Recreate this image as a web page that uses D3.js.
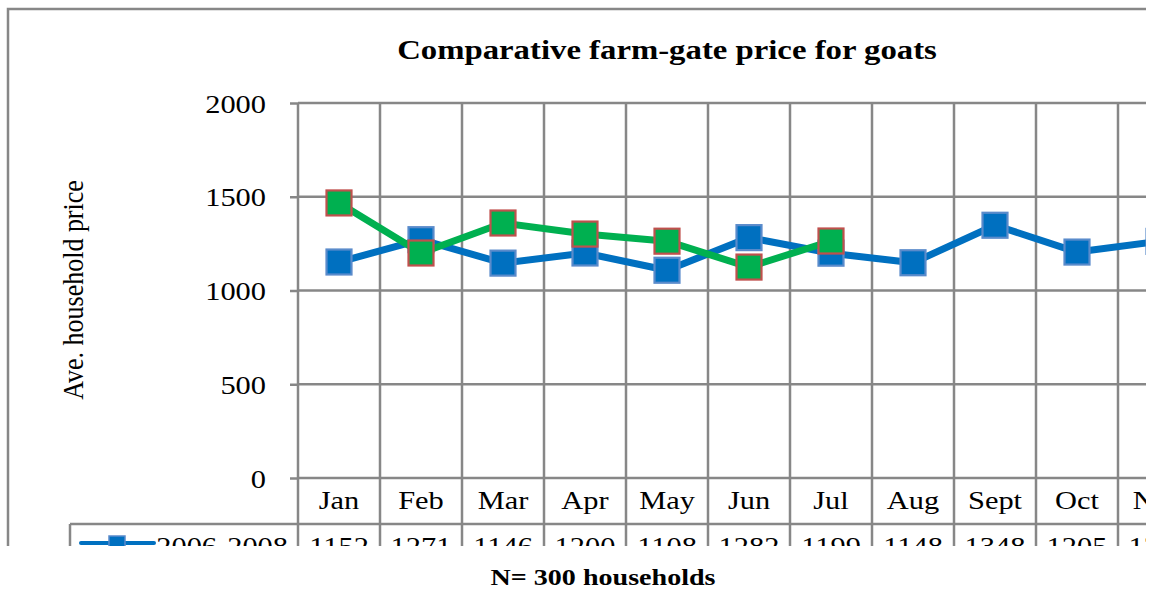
<!DOCTYPE html>
<html>
<head>
<meta charset="utf-8">
<script src="https://cdn.jsdelivr.net/npm/d3@7"></script>
<style>
  body { margin: 0; background: #fff; }
  text { font-family: "Liberation Serif", "Times New Roman", serif; }
</style>
</head>
<body>
<figure id="chart" style="margin:0"></figure>
<script>
const months = ["Jan", "Feb", "Mar", "Apr", "May", "Jun", "Jul", "Aug", "Sept", "Oct", "Nov", "Dec"];
const yTicks = [0, 500, 1000, 1500, 2000];
const series1Name = "2006-2008";
const series1 = [1152, 1271, 1146, 1200, 1108, 1282, 1199, 1148, 1348, 1205, 1262, null];
const series2 = [1467, 1200, 1360, 1301, 1263, 1125, 1264, null, null, null, null, null];

const W = 1157, H = 591;
const plotLeft = 298, plotTop = 103, plotBottom = 478;
const colW = 82;
const gridColor = "#878787";
const sx = 1.17; // the source picture is a little wider than tall

const svg = d3.select("figure#chart").append("svg")
  .attr("width", W).attr("height", H);

svg.append("clipPath").attr("id", "crop")
  .append("rect").attr("x", 0).attr("y", 0).attr("width", 1146).attr("height", 546);

const g = svg.append("g").attr("clip-path", "url(#crop)");

// horizontally stretched text at (x, y)
function label(parent, x, y, txt, size, anchor, bold) {
  return parent.append("text")
    .attr("transform", "translate(" + x + "," + y + ") scale(" + sx + ",1)")
    .attr("text-anchor", anchor || "middle")
    .attr("font-size", size)
    .attr("font-weight", bold ? "bold" : null)
    .text(txt);
}

// outer chart border
g.append("rect")
  .attr("x", 8).attr("y", 9).attr("width", 1300).attr("height", 700)
  .attr("fill", "none").attr("stroke", gridColor).attr("stroke-width", 2.5);

// title
label(g, 667, 59, "Comparative farm-gate price for goats", 28, "middle", true);

// scales
const x = d3.scaleBand().domain(months).range([plotLeft, plotLeft + colW * months.length]);
const y = d3.scaleLinear().domain([0, 2000]).range([plotBottom, plotTop]);

// y axis ticks + labels
const yAxis = g.append("g")
  .attr("transform", "translate(" + plotLeft + ",0)")
  .call(d3.axisLeft(y).tickValues(yTicks).tickFormat(d3.format("d")).tickSize(8).tickSizeOuter(0));
yAxis.select(".domain").remove();
yAxis.selectAll("line").attr("stroke", gridColor).attr("stroke-width", 2.5);
yAxis.selectAll("text")
  .attr("x", 0).attr("dy", null)
  .attr("transform", "translate(-32,9) scale(" + sx + ",1)")
  .attr("font-size", 26).attr("fill", "#000")
  .attr("font-family", "Liberation Serif");

// horizontal grid
g.append("g").selectAll("line")
  .data(yTicks)
  .enter().append("line")
  .attr("x1", plotLeft).attr("x2", plotLeft + colW * months.length)
  .attr("y1", d => y(d)).attr("y2", d => y(d))
  .attr("stroke", gridColor).attr("stroke-width", 2.5);

// vertical grid lines (run down through the data table)
g.append("g").selectAll("line")
  .data(months)
  .enter().append("line")
  .attr("x1", d => x(d)).attr("x2", d => x(d))
  .attr("y1", plotTop).attr("y2", 620)
  .attr("stroke", gridColor).attr("stroke-width", 2.5);

// data table
const rowTop = 524, rowH = 46;
g.append("line")
  .attr("x1", 70).attr("x2", plotLeft + colW * months.length)
  .attr("y1", rowTop).attr("y2", rowTop)
  .attr("stroke", gridColor).attr("stroke-width", 2.5);
g.append("line")
  .attr("x1", 70).attr("x2", 70)
  .attr("y1", rowTop).attr("y2", rowTop + rowH * 2)
  .attr("stroke", gridColor).attr("stroke-width", 2.5);

const header = g.append("g");
months.forEach(m => label(header, x(m) + x.bandwidth() / 2, 509, m, 26));

const row1 = g.append("g");
series1.forEach((v, i) => {
  if (v != null) label(row1, x(months[i]) + x.bandwidth() / 2, 555, v, 26);
});

// legend key in table
g.append("line").attr("x1", 81).attr("x2", 154).attr("y1", 543).attr("y2", 543)
  .attr("stroke", "#0070C0").attr("stroke-width", 4).attr("stroke-linecap", "round");
g.append("rect").attr("x", 109).attr("y", 536).attr("width", 16).attr("height", 15)
  .attr("fill", "#0070C0").attr("stroke", "#5A8BCB").attr("stroke-width", 1.5);
label(g, 288, 555, series1Name, 26, "end");

// y axis title (rotated, so no horizontal stretch along its length)
g.append("text")
  .attr("transform", "translate(83,290) rotate(-90) scale(1," + sx + ")")
  .attr("text-anchor", "middle").attr("font-size", 26)
  .text("Ave. household price");

// lines + markers
function drawSeries(values, color, markerStroke) {
  const pts = values.map((v, i) => ({ m: months[i], v })).filter(d => d.v != null);
  const line = d3.line()
    .x(d => x(d.m) + x.bandwidth() / 2)
    .y(d => y(d.v));
  g.append("path").datum(pts)
    .attr("d", line)
    .attr("fill", "none").attr("stroke", color)
    .attr("stroke-width", 7).attr("stroke-linejoin", "round");
  const s = 25;
  g.append("g").selectAll("rect")
    .data(pts)
    .enter().append("rect")
    .attr("x", d => x(d.m) + x.bandwidth() / 2 - s / 2)
    .attr("y", d => y(d.v) - s / 2)
    .attr("width", s).attr("height", s)
    .attr("fill", color).attr("stroke", markerStroke).attr("stroke-width", 2.2);
}
drawSeries(series1, "#0070C0", "#5A8BCB");
drawSeries(series2, "#00B050", "#C0504D");

// caption below
label(svg, 603, 585, "N= 300 households", 24, "middle", true);
</script>
</body>
</html>
